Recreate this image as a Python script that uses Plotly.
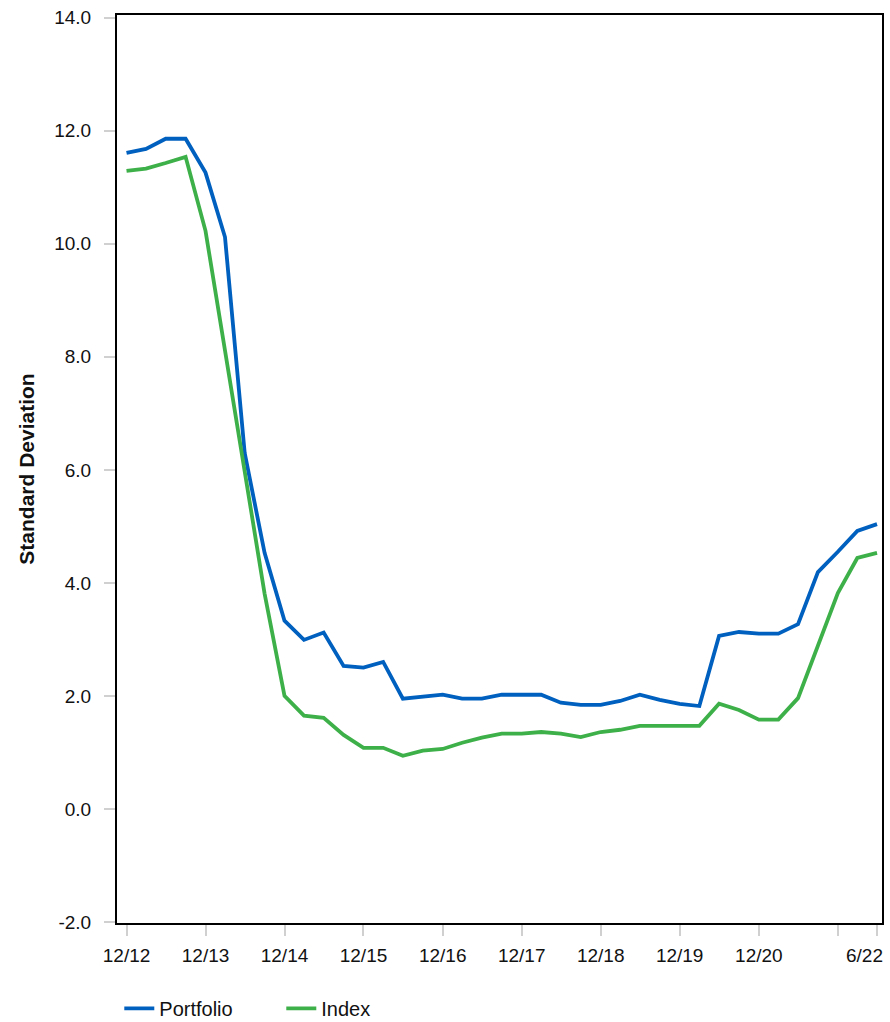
import plotly.graph_objects as go
import pandas as pd

# Quarter-end dates from 12/2012 to 6/2022
dates = pd.date_range("2012-12-31", "2022-06-30", freq="QE").strftime("%Y-%m-%d").tolist()

portfolio = [11.61, 11.68, 11.86, 11.86, 11.26, 10.12, 6.30, 4.53, 3.33, 2.99,
             3.12, 2.53, 2.50, 2.60, 1.95, 1.98, 2.02, 1.95, 1.95, 2.02,
             2.02, 2.02, 1.88, 1.84, 1.84, 1.91, 2.02, 1.93, 1.86, 1.82,
             3.06, 3.13, 3.10, 3.10, 3.27, 4.19, 4.55, 4.92, 5.04]
index_vals = [11.29, 11.33, 11.43, 11.54, 10.23, 8.10, 6.00, 3.81, 2.00, 1.65,
              1.61, 1.31, 1.08, 1.08, 0.94, 1.03, 1.06, 1.17, 1.26, 1.33,
              1.33, 1.36, 1.33, 1.27, 1.36, 1.40, 1.47, 1.47, 1.47, 1.47,
              1.86, 1.75, 1.58, 1.58, 1.96, 2.90, 3.82, 4.44, 4.53]

tick_dates = ["2012-12-31", "2013-12-31", "2014-12-31", "2015-12-31", "2016-12-31",
              "2017-12-31", "2018-12-31", "2019-12-31", "2020-12-31", "2021-12-31",
              "2022-06-30"]
tick_labels = ["12/12", "12/13", "12/14", "12/15", "12/16", "12/17", "12/18",
               "12/19", "12/20", "", ""]
end_label = "6/22"   # label for the last tick (drawn right-aligned so it stays inside)

y_ticks = [-2, 0, 2, 4, 6, 8, 10, 12, 14]
y_labels = ["-2.0", "0.0", "2.0", "4.0", "6.0", "8.0", "10.0", "12.0", "14.0"]

font = "Liberation Sans, Arial, sans-serif"

fig = go.Figure()
fig.add_trace(go.Scatter(x=dates, y=portfolio, mode="lines", name="Portfolio",
                         line=dict(color="#0060BF", width=3.8)))
fig.add_trace(go.Scatter(x=dates, y=index_vals, mode="lines", name="Index",
                         line=dict(color="#3EB049", width=3.8)))

fig.add_annotation(x=tick_dates[-1], y=0, xref="x", yref="paper",
                   text=end_label, showarrow=False, xanchor="right", yanchor="middle",
                   xshift=8, yshift=-32,
                   font=dict(family=font, size=19, color="#111111"))

fig.update_layout(
    width=890, height=1022,
    margin=dict(l=117, r=8, t=15, b=99, autoexpand=False),
    paper_bgcolor="white", plot_bgcolor="white",
    showlegend=True,
    legend=dict(orientation="h", xref="paper", x=0.003, xanchor="left",
                yref="paper", y=-0.0725, yanchor="top",
                font=dict(family=font, size=20, color="#111111"),
                entrywidth=117, entrywidthmode="pixels", tracegroupgap=0),
    xaxis=dict(type="date", range=["2012-11-17", "2022-07-23"],
               tickvals=tick_dates, ticktext=tick_labels,
               showgrid=False, zeroline=False, automargin=False,
               showline=True, linecolor="black", linewidth=2, mirror=True,
               ticks="outside", ticklen=11, tickwidth=2, tickcolor="#d0d0d0",
               ticklabelstandoff=3,
               tickfont=dict(family=font, size=19, color="#111111")),
    yaxis=dict(range=[-2.02, 14.05], tickvals=y_ticks, ticktext=y_labels,
               showgrid=False, zeroline=False, automargin=False,
               showline=True, linecolor="black", linewidth=2, mirror=True,
               ticks="outside", ticklen=11, tickwidth=2, tickcolor="#d0d0d0",
               ticklabelstandoff=9, ticklabeloverflow="allow",
               tickfont=dict(family=font, size=19, color="#111111")),
)
fig.update_yaxes(title=dict(text="<b>Standard Deviation</b>", standoff=14,
                            font=dict(family=font, size=21, color="#111111")))

fig.write_html("out.html", config={"displayModeBar": False},
               post_script="document.body.style.margin='0';document.body.style.padding='0';")
